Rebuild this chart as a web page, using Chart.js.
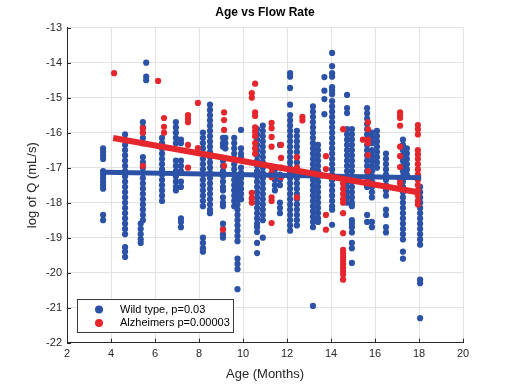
<!DOCTYPE html>
<html>
<head>
<meta charset="utf-8">
<script src="https://cdn.jsdelivr.net/npm/chart.js@4.4.1/dist/chart.umd.min.js"></script>
<style>
html,body{margin:0;padding:0;background:#fff;}
#wrap{width:513px;height:385px;}
</style>
</head>
<body>
<div id="wrap"><canvas id="c" width="513" height="385"></canvas></div>
<script>
// ---- data ----
const wtAges = [3.64, 4.64, 5.45, 5.35, 5.6, 6.32, 6.95, 7.18, 8.18, 8.5, 9.09, 9.2, 9.6, 9.75, 9.91, 10.64, 10.9, 11.45, 11.68, 12.14, 12.45, 13.18, 13.41, 13.7, 14.05, 14.73, 14.95, 15.64, 15.86, 16.09, 16.5, 17.27, 17.45, 18.05];
const wtLogQ = [
  [-16.45,-16.55,-16.65,-16.75,-17.1,-17.2,-17.3,-17.4,-17.5,-17.6,-18.35,-18.5],
  [-16.05,-16.2,-16.35,-16.5,-16.65,-16.8,-16.95,-17.1,-17.25,-17.4,-17.55,-17.7,-17.85,-18.0,-18.15,-18.3,-18.45,-18.6,-18.75,-18.9,-19.27,-19.4,-19.55],
  [-15.7,-15.85,-16.0,-16.15,-16.3,-16.7,-16.85,-17.0,-17.15,-17.3,-17.45,-17.6,-17.75,-17.9,-18.05,-18.2,-18.35,-18.5],
  [-18.6,-18.75,-18.9,-19.05,-19.15],
  [-14.0,-14.4,-14.5],
  [-16.15,-16.3,-16.45,-16.6,-16.75,-16.9,-17.05,-17.2,-17.35,-17.5,-17.65,-17.8,-17.95],
  [-15.7,-15.85,-16.0,-16.15,-16.3,-16.8,-16.95,-17.1,-17.25,-17.4,-17.55,-17.65],
  [-16.2,-16.3,-16.8,-16.95,-17.1,-17.4,-17.55,-18.45,-18.55,-18.7],
  [-16.0,-16.15,-16.3,-16.45,-16.6,-16.75,-16.9,-17.05,-17.2,-17.35,-17.5,-17.65,-17.8,-17.95,-18.1,-19.0,-19.15,-19.3,-19.4],
  [-15.2,-15.35,-15.5,-15.65,-15.8,-15.95,-16.1,-16.25,-16.4,-16.55,-16.7,-16.85,-17.0,-17.15,-17.3,-17.45,-17.6,-17.75,-17.9,-18.05,-18.2,-18.3],
  [-16.15,-16.3,-16.4,-16.8,-16.95,-17.1,-17.25,-17.4,-17.55,-17.65,-17.85,-18.0,-18.1,-18.6,-18.75,-18.9,-19.0],
  [-16.15,-16.3,-16.45],
  [-16.15,-16.3,-16.45,-16.6,-16.75,-16.9,-17.05,-17.2,-17.35,-17.5,-17.65,-17.8,-17.95,-18.1],
  [-17.3,-17.45,-17.6,-17.75,-17.9,-18.05,-18.2,-18.35,-18.5,-18.65,-18.8,-18.95,-19.1,-19.6,-19.75,-19.9,-20.47],
  [-15.92,-16.45,-16.6,-16.7,-17.0,-17.15,-17.3,-17.45,-17.6,-17.75,-17.9],
  [-15.9,-16.05,-16.2,-16.35,-16.5,-16.65,-16.8,-16.95,-17.1,-17.25,-17.4,-17.55,-17.7,-17.85,-18.0,-18.15,-18.3,-18.45,-18.6,-18.7,-18.84,-19.15,-19.44],
  [-15.8,-15.95,-16.1,-16.25,-16.4,-16.55,-16.7,-16.85,-17.0,-17.15,-17.3,-17.45,-17.6,-17.75,-17.9,-18.05,-18.2,-18.35,-18.5,-19.0],
  [-17.05,-17.2,-17.35,-17.5,-17.65],
  [-16.35,-17.2,-17.35,-17.5,-18.0,-18.15,-18.3],
  [-14.3,-14.4,-14.72,-15.2,-15.5,-15.65,-15.8,-15.95,-16.1,-16.25,-16.4,-16.55,-16.7,-16.85,-17.0,-17.15,-17.3,-17.45,-17.6,-17.75,-17.9,-18.05,-18.2,-18.35,-18.5,-18.65,-18.8],
  [-15.95,-16.1,-16.25,-16.4,-16.55,-16.7,-16.85,-17.0,-17.15,-17.3,-17.45,-17.6,-17.75,-17.9,-18.05,-18.2,-18.35,-18.5,-18.65],
  [-15.25,-15.4,-15.55,-15.7,-15.85,-16.0,-16.15,-16.3,-16.45,-16.6,-16.75,-16.9,-17.05,-17.2,-17.35,-17.5,-17.65,-17.8,-17.95,-18.1,-18.25,-18.4,-18.55,-18.7,-20.95],
  [-16.35,-16.5,-16.65,-16.8,-16.95,-17.1,-17.25,-17.4,-17.55,-17.7,-17.85,-18.0,-18.15,-18.3,-18.45,-18.55],
  [-14.41,-14.8,-15.04,-15.47],
  [-13.72,-14.1,-14.3,-14.4,-14.7,-14.8,-14.9,-15.1,-15.25,-15.4,-15.55,-15.7,-15.85,-16.0,-16.15,-16.3,-16.45,-16.6,-16.75,-16.9,-17.05,-17.2,-17.35,-17.5,-17.65,-17.8,-17.95,-18.1,-18.2,-18.63],
  [-14.92,-15.3,-15.44,-15.9,-16.05,-16.2,-16.35,-16.5,-16.65,-16.8,-16.95,-17.1,-17.25,-17.4,-17.55,-17.7,-17.85,-18.0],
  [-15.9,-16.05,-16.2,-16.35,-16.5,-16.65,-16.8,-16.95,-17.1,-17.25,-17.4,-17.55,-17.7,-17.85,-18.0,-18.1,-18.5,-18.6,-18.7,-18.85,-19.15,-19.3,-19.72],
  [-15.3,-15.45,-15.6,-15.75,-15.9,-16.05,-16.2,-16.35,-16.5,-16.65,-16.8,-16.95,-17.1,-17.25,-17.4,-17.55,-18.35,-18.55],
  [-16.0,-16.15,-16.3,-16.5,-16.65,-16.8,-16.95,-17.1,-17.25,-17.4,-17.55,-17.7,-17.85,-18.55,-18.7],
  [-15.95,-16.1,-16.25,-16.4,-16.55,-16.7,-16.85,-17.0],
  [-16.6,-16.75,-16.9,-17.05,-17.2,-17.35,-17.5,-17.65,-17.8,-18.2,-18.35,-18.7,-18.85],
  [-16.2,-16.35,-16.5,-16.65,-16.8,-16.95,-17.1,-17.25,-17.4,-17.55,-17.7,-17.85,-18.0,-18.15,-18.3,-18.45,-18.6,-18.75,-18.9,-19.05,-19.4,-19.6],
  [-16.45,-16.6,-16.75,-16.9,-17.05,-17.2],
  [-17.55,-17.7,-17.85,-18.0,-18.15,-18.3,-18.45,-18.6,-18.75,-18.9,-19.05,-19.2,-20.2,-20.3,-21.3]
];
const adAges = [4.14, 5.45, 6.14, 6.41, 7.5, 7.95, 9.09, 9.14, 10.4, 10.55, 11.3, 11.73, 12.45, 12.7, 13.77, 14.55, 15.45, 15.68, 17.14, 17.95];
const adLogQ = [
  [-14.3],
  [-15.87,-16.0,-16.95],
  [-14.52],
  [-15.58,-15.83,-16.0],
  [-15.5,-15.6,-15.7,-16.35,-17.0],
  [-15.15,-16.44],
  [-18.77],
  [-15.42,-15.64,-15.92,-16.95],
  [-14.87,-15.0,-17.72,-17.87,-18.0],
  [-14.6,-15.42,-15.52,-15.85,-15.97,-16.1,-16.3,-16.45,-16.6],
  [-15.72,-15.87,-16.12,-16.4,-17.0,-17.15,-17.27,-17.85,-17.95,-18.58],
  [-16.35,-16.72,-17.0,-17.27],
  [-16.7,-17.0,-17.85],
  [-15.55,-15.65],
  [-16.67,-17.04,-18.35,-18.77],
  [-15.9,-17.3,-17.45,-17.6,-17.75,-17.9,-18.0,-18.3,-18.87,-19.35,-19.45,-19.55,-19.65,-19.75,-19.85,-19.95,-20.05,-20.2],
  [-16.2],
  [-15.7,-15.9,-16.2,-16.3,-16.64,-17.1,-17.3],
  [-15.42,-15.5,-15.58,-15.8,-16.4,-16.67,-16.98,-17.35,-17.45],
  [-15.78,-15.9,-16.05,-16.5,-16.62,-16.75,-16.9,-17.05,-17.2,-17.35,-17.5,-17.65,-17.8,-17.95,-18.05]
];
const wtFitAge = [3.7, 18.1];
const wtFitLogQ = [-17.13, -17.29];
const adFitAge = [4.1, 17.95];
const adFitLogQ = [-16.15, -17.7];
const xTicks = [2, 4, 6, 8, 10, 12, 14, 16, 18, 20];
const yTicks = [-22, -21, -20, -19, -18, -17, -16, -15, -14, -13];
const seriesNames = ['Wild type, p=0.03', 'Alzheimers p=0.00003'];

// ---- styles ----
const BLUE = '#2b52a6';
const RED = '#e5262d';
const INK = '#262626';
const GRID = '#e2e2e2';
const FONT = '"Liberation Sans", Arial, Helvetica, sans-serif';

function toPoints(ages, cols) {
  const pts = [];
  ages.forEach((a, i) => cols[i].forEach(v => pts.push({x: a, y: v})));
  return pts;
}
function toLine(xs, ys) { return xs.map((x, i) => ({x, y: ys[i]})); }

const insideTicksAndLegend = {
  id: 'matlabExtras',
  afterDatasetsDraw(chart) {
    const {ctx, chartArea: ca, scales: {x, y}} = chart;
    ctx.save();
    ctx.strokeStyle = INK;
    ctx.lineWidth = 1;
    ctx.beginPath();
    xTicks.forEach(t => {
      const px = Math.round(x.getPixelForValue(t)) + 0.5;
      ctx.moveTo(px, ca.bottom); ctx.lineTo(px, ca.bottom - 4);
    });
    yTicks.forEach(t => {
      const py = Math.round(y.getPixelForValue(t)) + 0.5;
      ctx.moveTo(ca.left, py); ctx.lineTo(ca.left + 4, py);
    });
    ctx.stroke();
    // legend box
    const bx = 77.5, by = 299.5, bw = 156, bh = 33;
    ctx.fillStyle = '#fff';
    ctx.fillRect(bx, by, bw, bh);
    ctx.strokeStyle = '#3a3a3a';
    ctx.strokeRect(bx, by, bw, bh);
    const rows = [[BLUE, 309.5], [RED, 323]];
    ctx.font = '11px ' + FONT;
    ctx.textBaseline = 'middle';
    ctx.textAlign = 'left';
    rows.forEach((r, i) => {
      ctx.fillStyle = r[0];
      ctx.beginPath();
      ctx.arc(99, r[1], 4, 0, Math.PI * 2);
      ctx.fill();
      ctx.fillStyle = '#000';
      ctx.fillText(seriesNames[i], 120, r[1]);
    });
    ctx.restore();
  }
};

new Chart(document.getElementById('c'), {
  type: 'scatter',
  data: {
    datasets: [
      { label: seriesNames[1] + ' fit', type: 'line', data: toLine(adFitAge, adFitLogQ), borderColor: RED, borderWidth: 6, pointRadius: 0, order: 0, borderCapStyle: 'butt' },
      { label: seriesNames[0] + ' fit', type: 'line', data: toLine(wtFitAge, wtFitLogQ), borderColor: BLUE, borderWidth: 5, pointRadius: 0, order: 1, borderCapStyle: 'butt' },
      { label: seriesNames[1], data: toPoints(adAges, adLogQ), backgroundColor: RED, borderWidth: 0, pointRadius: 3.1, order: 2 },
      { label: seriesNames[0], data: toPoints(wtAges, wtLogQ), backgroundColor: BLUE, borderWidth: 0, pointRadius: 3.1, order: 3 }
    ]
  },
  options: {
    responsive: false,
    animation: false,
    events: [],
    layout: { padding: { left: 0, right: 50, top: 0, bottom: 0 } },
    plugins: {
      legend: { display: false },
      tooltip: { enabled: false },
      title: {
        display: true, text: 'Age vs Flow Rate', fullSize: false,
        color: '#000', font: { family: FONT, size: 12, weight: 'bold' },
        padding: { top: 5, bottom: 8.3 }
      }
    },
    scales: {
      x: {
        type: 'linear', min: 2, max: 20,
        afterBuildTicks: s => { s.ticks = xTicks.map(v => ({value: v})); },
        afterFit: s => { s.height = 42.3; },
        ticks: { color: INK, font: { family: FONT, size: 11 }, padding: 5, maxRotation: 0 },
        grid: { color: GRID, drawTicks: false },
        border: { display: true, color: INK, width: 1 },
        title: { display: true, text: 'Age (Months)', color: INK, font: { family: FONT, size: 13 }, padding: { top: 0, bottom: 3.2 } }
      },
      y: {
        type: 'linear', min: -22, max: -13,
        afterBuildTicks: s => { s.ticks = yTicks.map(v => ({value: v})); },
        afterFit: s => { s.width = 67; },
        ticks: { color: INK, font: { family: FONT, size: 11 }, padding: 5 },
        grid: { color: GRID, drawTicks: false },
        border: { display: true, color: INK, width: 1 },
        title: { display: true, text: 'log of Q (mL/s)', color: INK, font: { family: FONT, size: 13 }, padding: { top: 25, bottom: 0 } }
      }
    }
  },
  plugins: [insideTicksAndLegend]
});
</script>
</body>
</html>
